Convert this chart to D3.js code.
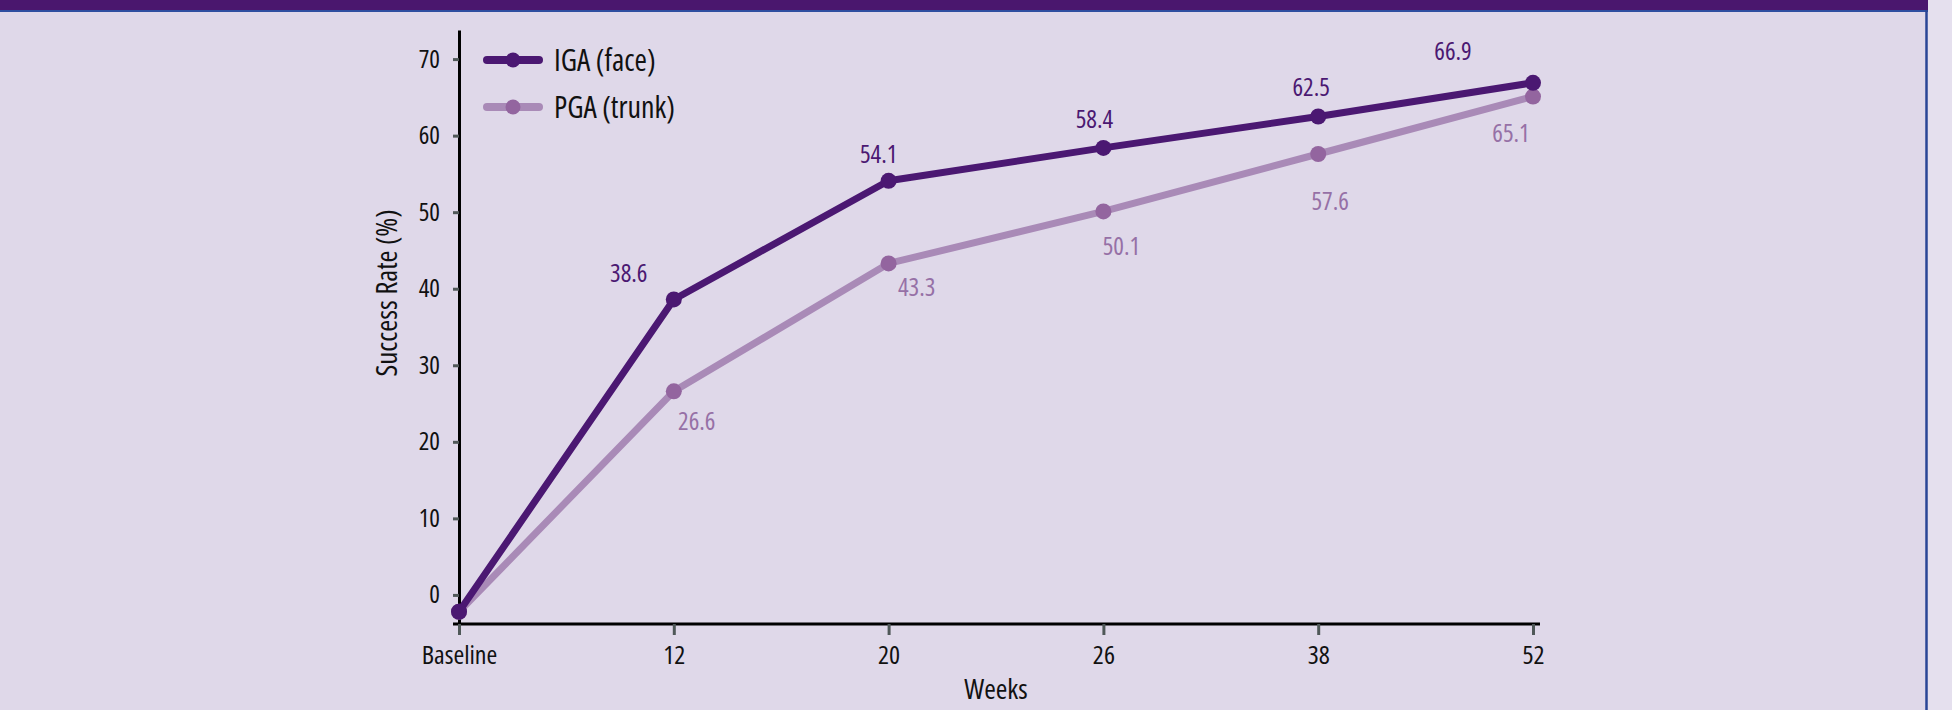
<!DOCTYPE html>
<html>
<head>
<meta charset="utf-8">
<script src="https://cdn.jsdelivr.net/npm/d3@7"></script>
<style>
  html, body { margin: 0; padding: 0; background: #e5e0ee; }
  svg { display: block; }
  text { font-family: "Open Sans", "DejaVu Sans", sans-serif; font-stretch: 75%; }
</style>
</head>
<body>
<svg id="chart" width="1952" height="710"></svg>
<script>
// Success rate over time, face (IGA) vs trunk (PGA)
const weeks = ["Baseline", "12", "20", "26", "38", "52"];
const igaFace = [-2.2, 38.6, 54.1, 58.4, 62.5, 66.9];
const pgaTrunk = [-2.2, 26.6, 43.3, 50.1, 57.6, 65.1];
const yTicks = [0, 10, 20, 30, 40, 50, 60, 70];
const seriesNames = ["IGA (face)", "PGA (trunk)"];

// label offsets from each point (px): [dx, dy] to label centre
const igaLabelOffset = [null, [-45, -26], [-10, -27], [-9, -29], [-7, -29], [-80, -32]];
const pgaLabelOffset = [null, [23, 30], [28, 24], [18, 35], [12, 47], [-22, 36]];

const W = 1952, H = 710;
const svg = d3.select("#chart");

const colIGA = "#4b1872";
const colPGAline = "#a98ab7";
const colPGAdot = "#93659f";
const colPGAtext = "#9670a6";

// panel: lavender field, purple header band, blue frame
svg.append("rect").attr("x", 0).attr("y", 0).attr("width", W).attr("height", H).attr("fill", "#e5e0ee");
svg.append("rect").attr("x", 0).attr("y", 0).attr("width", 1927).attr("height", H).attr("fill", "#dfd8e9");
svg.append("rect").attr("x", 0).attr("y", 0).attr("width", 1928).attr("height", 10).attr("fill", "#4a176e");
svg.append("line").attr("x1", 0).attr("x2", 1928).attr("y1", 11).attr("y2", 11)
  .attr("stroke", "#2e4ea0").attr("stroke-width", 2);
svg.append("line").attr("x1", 1926.5).attr("x2", 1926.5).attr("y1", 10).attr("y2", H)
  .attr("stroke", "#2a4696").attr("stroke-width", 2.5);

const x = d3.scalePoint().domain(weeks).range([459, 1533]);
const y = d3.scaleLinear().domain([-3.8, 73.8]).range([624, 30]);

// y axis
const yAxis = svg.append("g").attr("transform", "translate(459,0)")
  .call(d3.axisLeft(y).tickValues(yTicks).tickSize(6).tickSizeOuter(0).tickPadding(13));
yAxis.select(".domain").attr("stroke", "#000").attr("stroke-width", 3);
yAxis.selectAll(".tick line").attr("stroke", "#4f5858").attr("stroke-width", 3);
yAxis.selectAll(".tick text").attr("font-size", 25).attr("fill", "#111");

// x axis
const xAxis = svg.append("g").attr("transform", "translate(0,624)")
  .call(d3.axisBottom(x).tickSize(11).tickSizeOuter(0).tickPadding(11));
xAxis.select(".domain").remove();
xAxis.insert("line", ":first-child")
  .attr("x1", x.range()[0] - 6).attr("x2", x.range()[1] + 7)
  .attr("stroke", "#000").attr("stroke-width", 3);
xAxis.selectAll(".tick line").attr("stroke", "#4f5858").attr("stroke-width", 3);
xAxis.selectAll(".tick text").attr("font-size", 26).attr("fill", "#111");

// axis titles
svg.append("text").attr("transform", "translate(397,293) rotate(-90)")
  .attr("text-anchor", "middle").attr("font-size", 29).attr("fill", "#111")
  .text("Success Rate (%)");
svg.append("text").attr("x", (x.range()[0] + x.range()[1]) / 2).attr("y", 699)
  .attr("text-anchor", "middle").attr("font-size", 28).attr("fill", "#111")
  .text("Weeks");

const line = d3.line().x((d, i) => x(weeks[i])).y(d => y(d));

function drawSeries(values, lineColor, dotColor, width) {
  svg.append("path").datum(values)
    .attr("d", line).attr("fill", "none")
    .attr("stroke", lineColor).attr("stroke-width", width)
    .attr("stroke-linejoin", "round").attr("stroke-linecap", "round");
  svg.append("g").selectAll("circle").data(values).join("circle")
    .attr("cx", (d, i) => x(weeks[i])).attr("cy", d => y(d))
    .attr("r", 8).attr("fill", dotColor);
}

function drawLabels(values, offsets, color) {
  svg.append("g").selectAll("text").data(values.map((v, i) => ({ v, i })).filter(d => offsets[d.i]))
    .join("text")
    .attr("x", d => x(weeks[d.i]) + offsets[d.i][0])
    .attr("y", d => y(d.v) + offsets[d.i][1])
    .attr("dy", "0.36em")
    .attr("text-anchor", "middle").attr("font-size", 25).attr("fill", color)
    .text(d => d3.format(".1f")(d.v));
}

drawSeries(pgaTrunk, colPGAline, colPGAdot, 7);
drawSeries(igaFace, colIGA, colIGA, 7);
drawLabels(igaFace, igaLabelOffset, colIGA);
drawLabels(pgaTrunk, pgaLabelOffset, colPGAtext);

// legend
const legend = svg.append("g");
const legendItems = [
  { name: seriesNames[0], line: colIGA, dot: colIGA, ly: 60 },
  { name: seriesNames[1], line: colPGAline, dot: colPGAdot, ly: 107 }
];
legendItems.forEach(it => {
  legend.append("line").attr("x1", 487).attr("x2", 539).attr("y1", it.ly).attr("y2", it.ly)
    .attr("stroke", it.line).attr("stroke-width", 8).attr("stroke-linecap", "round");
  legend.append("circle").attr("cx", 513).attr("cy", it.ly).attr("r", 7.5).attr("fill", it.dot);
  legend.append("text").attr("x", 554).attr("y", it.ly).attr("dy", "0.36em")
    .attr("font-size", 30).attr("fill", "#111").text(it.name);
});
</script>
</body>
</html>
